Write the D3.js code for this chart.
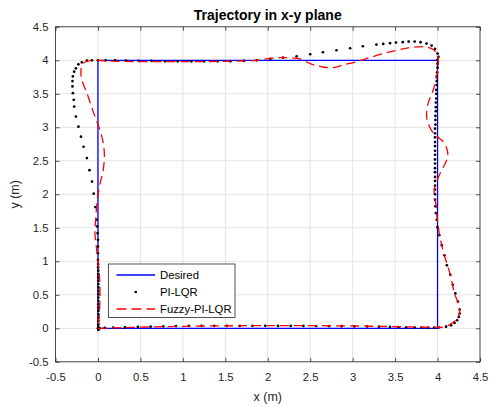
<!DOCTYPE html>
<html><head><meta charset="utf-8">
<script src="https://cdn.jsdelivr.net/npm/d3@7"></script>
<style>body{margin:0;background:#fff}svg{display:block}</style>
</head><body>
<script>
// ---- data ----
const xTicks = [-0.5,0,0.5,1,1.5,2,2.5,3,3.5,4,4.5];
const yTicks = [-0.5,0,0.5,1,1.5,2,2.5,3,3.5,4,4.5];
const seriesNames = ["Desired","PI-LQR","Fuzzy-PI-LQR"];
const desired = [[0,0],[4,0],[4,4],[0,4],[0,0]];
const piLqr = [
[0,0],[0.02,0.0],[0.08,0.005],[0.18,0.01],[0.32,0.015],[0.47,0.02],[0.62,0.025],[0.77,0.03],[0.92,0.033],[1.07,0.035],[1.22,0.036],[1.37,0.037],[1.52,0.037],[1.67,0.037],[1.82,0.037],[1.97,0.037],[2.12,0.036],[2.27,0.036],[2.42,0.035],[2.57,0.034],[2.72,0.033],[2.87,0.032],[3.02,0.03],[3.17,0.028],[3.31,0.025],[3.44,0.02],[3.54,0.017],[3.63,0.015],[3.73,0.012],[3.81,0.01],[3.89,0.01],[3.96,0.01],[4.02,0.012],[4.1,0.025],[4.16,0.045],[4.2,0.08],[4.23,0.12],[4.25,0.17],[4.26,0.22],[4.26,0.28],[4.24,0.4],[4.21,0.52],[4.18,0.65],[4.15,0.8],[4.11,0.94],[4.08,1.09],[4.05,1.24],[4.02,1.39],[4.0,1.51],[3.99,1.62],[3.98,1.72],[3.975,1.82],[3.97,1.92],
[3.97,2.0],[3.97,2.07],[3.97,2.13],[3.97,2.2],[3.97,2.26],[3.97,2.33],[3.97,2.39],[3.97,2.46],[3.97,2.52],[3.97,2.59],[3.97,2.65],[3.97,2.72],[3.97,2.78],[3.97,2.85],[3.97,2.91],[3.97,2.98],[3.975,3.04],[3.975,3.11],[3.975,3.17],[3.98,3.24],[3.98,3.3],[3.98,3.37],[3.985,3.43],[3.985,3.5],[3.985,3.56],[3.99,3.63],[3.99,3.69],[3.99,3.76],[3.995,3.82],[4.0,3.89],[4.0,3.95],
[4.0,4.01],[4.01,4.05],[4.0,4.1],[3.97,4.17],[3.93,4.22],[3.87,4.25],[3.8,4.27],[3.73,4.28],[3.66,4.28],[3.59,4.27],[3.51,4.265],[3.44,4.255],[3.36,4.245],[3.28,4.235],[3.12,4.21],[2.97,4.18],[2.81,4.15],[2.65,4.12],[2.5,4.09],[2.34,4.06],[2.18,4.04],[2.03,4.02],[1.87,4.0],[1.72,3.99],[1.56,3.985],[1.41,3.985],[1.25,3.985],[1.1,3.985],[0.94,3.985],[0.79,3.985],[0.63,3.99],[0.48,3.99],[0.33,3.995],[0.2,4.0],[0.09,4.0],[0.0,4.0],[-0.07,4.0],[-0.13,3.995],[-0.19,3.97],[-0.23,3.94],[-0.26,3.88],[-0.28,3.83],[-0.295,3.76],[-0.3,3.69],[-0.3,3.61],[-0.295,3.51],[-0.285,3.41],[-0.28,3.31],[-0.26,3.16],[-0.23,3.01],[-0.2,2.86],[-0.17,2.71],[-0.13,2.54],[-0.1,2.36],[-0.07,2.19],[-0.05,2.01],[-0.03,1.81],[-0.015,1.62],[-0.008,1.52],[-0.004,1.42],[0,1.32],[0,1.22],[0,1.12],[0,1.02],
[0.002,0.96],[0.002,0.91],[0.003,0.86],[0.003,0.81],[0.004,0.76],[0.004,0.71],[0.005,0.66],[0.005,0.61],[0.005,0.56],[0.005,0.51],[0.005,0.46],[0.005,0.41],[0.005,0.36],[0.005,0.31],[0.005,0.26],[0.005,0.21],[0.005,0.16],[0.005,0.11],[0.005,0.06],[0.005,0.02],[0.005,-0.025]
];
const fuzzy = [
[0,0],[0.3,0.01],[1,0.03],[2,0.04],[3,0.035],[3.7,0.02],[4.0,0.015],[4.07,0.02],[4.15,0.06],[4.22,0.13],[4.26,0.22],[4.25,0.35],[4.2,0.52],[4.15,0.8],[4.08,1.09],[4.03,1.35],[4.0,1.6],[3.98,1.85],[3.96,2.06],[3.99,2.19],[4.03,2.31],[4.09,2.46],[4.12,2.56],[4.11,2.68],[4.07,2.78],[4.0,2.86],[3.93,2.95],[3.88,3.1],[3.87,3.2],[3.89,3.36],[3.95,3.56],[3.99,3.76],[4.0,3.88],[4.01,3.98],[3.99,4.1],[3.95,4.16],[3.87,4.2],[3.77,4.2],[3.67,4.19],[3.52,4.15],[3.36,4.1],[3.2,4.04],[3.05,3.98],[2.89,3.93],[2.77,3.89],[2.65,3.9],[2.5,3.95],[2.38,4.02],[2.18,4.04],[2.03,4.03],[1.87,4.0],[1.5,3.985],[1,3.98],[0.5,3.98],[0.1,3.99],[-0.075,4.0],[-0.17,3.96],[-0.2,3.86],[-0.19,3.71],[-0.13,3.51],[-0.055,3.23],[0.004,3.03],[0.055,2.81],[0.075,2.61],[0.062,2.36],[0.024,2.16],[-0.004,1.96],[-0.024,1.67],[-0.035,1.42],[-0.015,1.17],[0.01,0.9],[0.024,0.6],[0.02,0.3],[0.008,0.08],[0,0]
];

// ---- layout ----
const W = 489, H = 407;
const L = 55.5, R = 480, T = 26.8, B = 361.8;
const ink = "#262626";
const tickFont = "11.3px";
const svg = d3.select("body").append("svg").attr("width", W).attr("height", H)
  .style("font-family", "'Liberation Sans', Arial, Helvetica, sans-serif");
const x = d3.scaleLinear().domain([-0.5, 4.5]).range([L, R]);
const y = d3.scaleLinear().domain([-0.5, 4.5]).range([B, T]);
const fmt = d => d3.format("~g")(d).replace("\u2212", "-");

// grid
const g = svg.append("g");
g.selectAll("line.gx").data(xTicks).join("line")
  .attr("x1", d => x(d)).attr("x2", d => x(d)).attr("y1", T).attr("y2", B)
  .attr("stroke", "#e3e3e3").attr("stroke-width", 1);
g.selectAll("line.gy").data(yTicks).join("line")
  .attr("y1", d => y(d)).attr("y2", d => y(d)).attr("x1", L).attr("x2", R)
  .attr("stroke", "#e3e3e3").attr("stroke-width", 1);

// clip
svg.append("clipPath").attr("id", "clip").append("rect")
  .attr("x", L).attr("y", T).attr("width", R - L).attr("height", B - T);
const plot = svg.append("g").attr("clip-path", "url(#clip)");
const line = d3.line().x(d => x(d[0])).y(d => y(d[1]));
const smooth = d3.line().x(d => x(d[0])).y(d => y(d[1])).curve(d3.curveCatmullRom.alpha(0.5));

plot.append("path").attr("d", line(desired)).attr("fill", "none")
  .attr("stroke", "#0000ff").attr("stroke-width", 1.3);
plot.selectAll("circle.pi").data(piLqr).join("circle")
  .attr("cx", d => x(d[0])).attr("cy", d => y(d[1])).attr("r", 1.35).attr("fill", "#000");
plot.append("path").attr("d", smooth(fuzzy)).attr("fill", "none")
  .attr("stroke", "#ff0000").attr("stroke-width", 1.3).attr("stroke-dasharray", "9,5");

// axes
const xAxis = d3.axisBottom(x).tickValues(xTicks).tickSize(-4).tickPadding(11).tickFormat(fmt);
const yAxis = d3.axisLeft(y).tickValues(yTicks).tickSize(-4).tickPadding(7).tickFormat(fmt);
const xTop = d3.axisTop(x).tickValues(xTicks).tickSize(-4).tickFormat("");
const yRight = d3.axisRight(y).tickValues(yTicks).tickSize(-4).tickFormat("");
function style(sel){
  sel.select(".domain").remove();
  sel.selectAll(".tick line").attr("stroke", ink).attr("stroke-width", 0.8);
  sel.selectAll(".tick text").attr("fill", ink).style("font-size", tickFont)
    .style("font-family", "'Liberation Sans', Arial, Helvetica, sans-serif");
}
svg.append("g").attr("transform", `translate(0,${B})`).call(xAxis).call(style);
svg.append("g").attr("transform", `translate(${L},0)`).call(yAxis).call(style);
svg.append("g").attr("transform", `translate(0,${T})`).call(xTop).call(style);
svg.append("g").attr("transform", `translate(${R},0)`).call(yRight).call(style);
svg.append("rect").attr("x", L).attr("y", T).attr("width", R - L).attr("height", B - T)
  .attr("fill", "none").attr("stroke", ink).attr("stroke-width", 0.8);

// labels
svg.append("text").attr("x", (L + R) / 2).attr("y", 20).attr("text-anchor", "middle")
  .attr("font-weight", "bold").style("font-size", "14px").attr("fill", "#000").text("Trajectory in x-y plane");
svg.append("text").attr("x", (L + R) / 2).attr("y", 400.5).attr("text-anchor", "middle")
  .style("font-size", "12.5px").attr("fill", ink).text("x (m)");
svg.append("text").attr("transform", `translate(18.5,${(T + B) / 2}) rotate(-90)`).attr("text-anchor", "middle")
  .style("font-size", "12.5px").attr("fill", ink).text("y (m)");

// legend
const lg = svg.append("g");
lg.append("rect").attr("x", 108.5).attr("y", 264).attr("width", 126.5).attr("height", 53.5)
  .attr("fill", "#fff").attr("stroke", ink).attr("stroke-width", 0.8);
const rows = [275, 292, 309];
const lx1 = 116.5, lx2 = 155;
lg.append("line").attr("x1", lx1).attr("x2", lx2).attr("y1", rows[0]).attr("y2", rows[0])
  .attr("stroke", "#0000ff").attr("stroke-width", 1.3);
lg.append("circle").attr("cx", (lx1 + lx2) / 2).attr("cy", rows[1]).attr("r", 1.35).attr("fill", "#000");
lg.append("line").attr("x1", lx1).attr("x2", lx2).attr("y1", rows[2]).attr("y2", rows[2])
  .attr("stroke", "#ff0000").attr("stroke-width", 1.3).attr("stroke-dasharray", "10,5");
lg.selectAll("text").data(seriesNames).join("text")
  .attr("x", 160).attr("y", (d, i) => rows[i] + 4).style("font-size", "11.3px").attr("fill", "#000")
  .text(d => d);
</script>
</body></html>
